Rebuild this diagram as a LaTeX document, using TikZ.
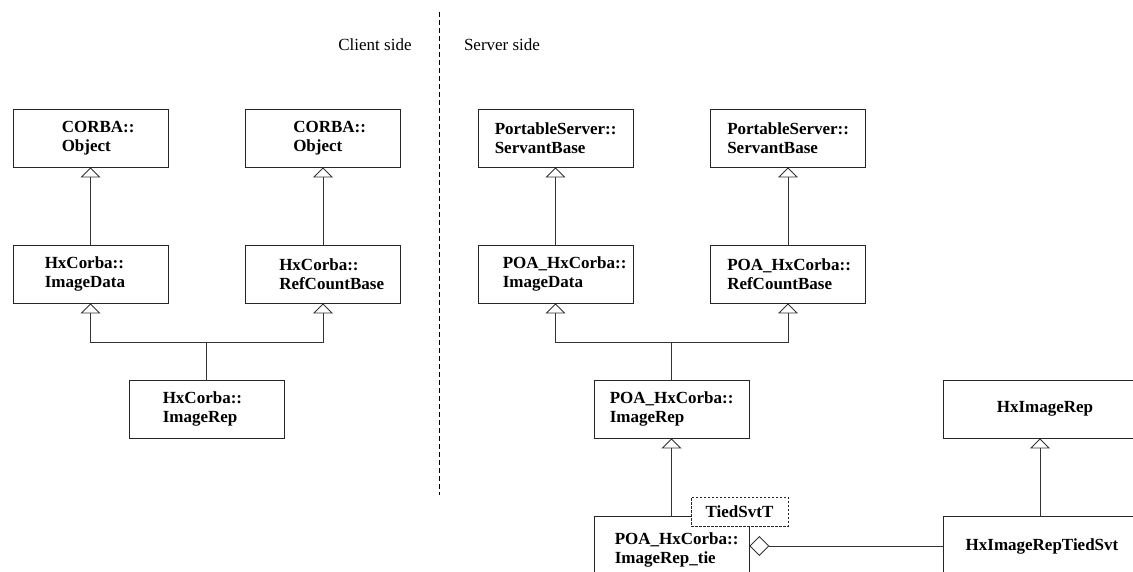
\documentclass[tikz,border=0pt]{standalone}
\usepackage{fontspec}
\setmainfont{Liberation Serif}
\usetikzlibrary{arrows.meta}

\tikzset{
  cls/.style={draw=black!85, line width=0.9pt, fill=white, inner sep=0pt,
    minimum width=155pt, minimum height=58pt},
  wide/.style={cls, minimum width=198pt},
  nm/.style={font=\fontsize{17}{18.5}\selectfont\bfseries, align=left,
    inner sep=0pt, anchor=west},
  gen/.style={draw=black!80, line width=0.9pt,
    -{Triangle[open, length=10pt, width=20pt]}},
  agg/.style={draw=black!80, line width=0.9pt,
    {Diamond[open, length=20pt, width=20pt]}-},
  side/.style={font=\fontsize{17}{19}\selectfont, inner sep=0pt},
  separator/.style={draw=black, line width=0.9pt, dash pattern=on 5pt off 3pt},
  tmpl/.style={draw=black!85, line width=0.9pt, dash pattern=on 2.5pt off 1.5pt,
    fill=white, inner sep=0pt, minimum width=97pt, minimum height=29pt,
    font=\fontsize{17}{18.5}\selectfont\bfseries}
}

\begin{document}
\begin{tikzpicture}[x=1pt, y=-1pt]
  \useasboundingbox (0,0) rectangle (1133,572);
  \clip (0,0) rectangle (1133,572);

  % client / server separation
  \coordinate (sepTop) at (439,12);
  \coordinate (sepBot) at (439,495);
  \draw[separator] (sepTop) -- (sepBot);
  \node[side] (client) at (375,45) {Client side};
  \node[side] (server) at (502,45) {Server side};

  % ---- client side classes ----
  \node[cls] (objL)  at (90.5,138) {};
  \node[cls] (objR)  at (323,138) {};
  \node[cls] (dataC) at (90.5,274) {};
  \node[cls] (refC)  at (323,274) {};
  \node[cls] (repC)  at (206.5,409) {};

  \node[nm] (objLt)  at ([xshift=49pt]objL.west)  {CORBA::\\Object};
  \node[nm] (objRt)  at ([xshift=48pt]objR.west)  {CORBA::\\Object};
  \node[nm] (dataCt) at ([xshift=32pt]dataC.west) {HxCorba::\\ImageData};
  \node[nm] (refCt)  at ([xshift=34pt]refC.west)  {HxCorba::\\RefCountBase};
  \node[nm] (repCt)  at ([xshift=34pt]repC.west)  {HxCorba::\\ImageRep};

  \draw[gen] (dataC.north) -- (objL.south);
  \draw[gen] (refC.north) -- (objR.south);
  \coordinate (jC) at (206.5,342);
  \draw[gen] (repC.north) -- (jC) -| (dataC.south);
  \draw[gen] (jC) -| (refC.south);

  % ---- server side classes ----
  \node[cls] (psL)   at (555.5,138) {};
  \node[cls] (psR)   at (788,138) {};
  \node[cls] (dataS) at (555.5,274) {};
  \node[cls] (refS)  at (788,274) {};
  \node[cls] (repS)  at (671.5,409) {};
  \node[cls, minimum height=60pt] (tie) at (671.5,546) {};
  \node[wide] (hxrep) at (1042,409) {};
  \node[wide, minimum height=60pt] (tsvt) at (1042,546) {};

  \node[nm] (psLt)   at ([xshift=17pt]psL.west)   {PortableServer::\\ServantBase};
  \node[nm] (psRt)   at ([xshift=17pt]psR.west)   {PortableServer::\\ServantBase};
  \node[nm] (dataSt) at ([xshift=25pt]dataS.west) {POA\_HxCorba::\\ImageData};
  \node[nm] (refSt)  at ([xshift=17pt]refS.west)  {POA\_HxCorba::\\RefCountBase};
  \node[nm] (repSt)  at ([xshift=16pt]repS.west)  {POA\_HxCorba::\\ImageRep};
  \node[nm] (tiet)   at ([xshift=21pt,yshift=-4pt]tie.west) {POA\_HxCorba::\\ImageRep\_tie};
  \node[nm, anchor=center] (hxrept) at ([xshift=3pt]hxrep.center) {HxImageRep};
  \node[nm, anchor=center] (tsvtt)  at (tsvt.center) {HxImageRepTiedSvt};

  \draw[gen] (dataS.north) -- (psL.south);
  \draw[gen] (refS.north) -- (psR.south);
  \coordinate (jS) at (671.5,342);
  \draw[gen] (repS.north) -- (jS) -| (dataS.south);
  \draw[gen] (jS) -| (refS.south);
  \draw[gen] (tie.north) -- (repS.south);
  \draw[gen] ([xshift=-2pt]tsvt.north) -- ([xshift=-2pt]hxrep.south);
  \draw[agg] (tie.east) -- (tsvt.west);

  % template parameter of the tie class
  \node[tmpl] (param) at (739.5,511.5) {TiedSvtT};
\end{tikzpicture}
\end{document}
